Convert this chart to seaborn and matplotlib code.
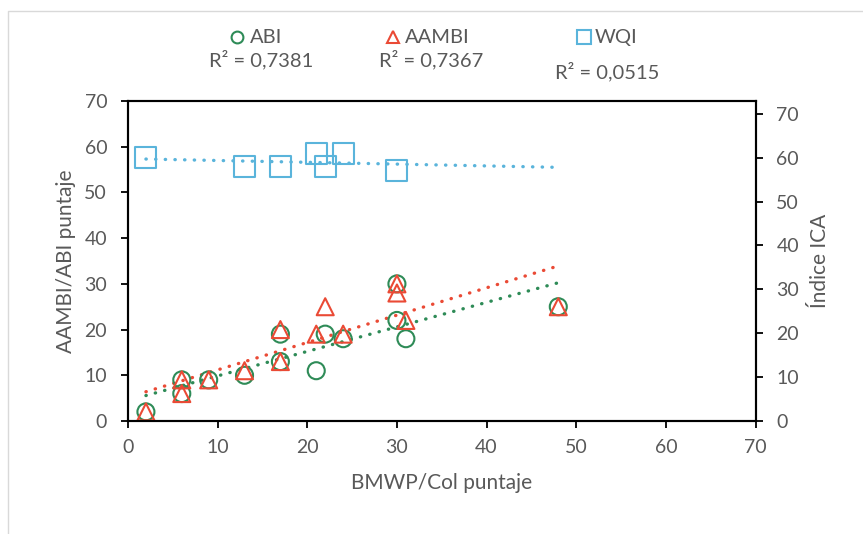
import numpy as np
import pandas as pd
import seaborn as sns
import matplotlib.pyplot as plt
from matplotlib.lines import Line2D

# datos
bmwp = [2, 6, 6, 9, 13, 17, 17, 21, 22, 24, 30, 30, 31, 48]
abi = [2, 9, 6, 9, 10, 19, 13, 11, 19, 18, 30, 22, 18, 25]
aambi = [2, 9, 6, 9, 11, 20, 13, 19, 25, 19, 30, 28, 22, 25]
bmwp_wqi = [2, 13, 17, 21, 22, 24, 30]
wqi = [60, 58, 58, 61, 58, 61, 57]
r2_labels = ["R² = 0,7381", "R² = 0,7367", "R² = 0,0515"]

verde = "#2E8B57"
rojo = "#EA4A35"
azul = "#5AB4DB"
gris = "#595959"

sns.set_theme(style="white")
plt.rcParams["font.family"] = ["Lato", "DejaVu Sans"]

W, H = 863, 534
fig = plt.figure(figsize=(W / 100, H / 100), dpi=100)
ax = fig.add_axes([128 / W, 1 - 421 / H, (755.5 - 128) / W, (421 - 101) / H])
ax2 = ax.twinx()

df = pd.DataFrame({"bmwp": bmwp, "abi": abi, "aambi": aambi})
dfw = pd.DataFrame({"bmwp": bmwp_wqi, "wqi": wqi})

dots = dict(linestyle=(0, (0.1, 2.8)), linewidth=2.4, dash_capstyle="round")
xs = np.array([2, 48])


def trend(axis, x, y, color, xr):
    m, b = np.polyfit(x, y, 1)
    sns.lineplot(x=xr, y=m * xr + b, ax=axis, color=color, **dots)


sns.scatterplot(data=df, x="bmwp", y="abi", ax=ax, marker="o", s=150,
                facecolor="none", edgecolor=verde, linewidth=1.5, zorder=3)
sns.scatterplot(data=df, x="bmwp", y="aambi", ax=ax, marker="^", s=150,
                facecolor="none", edgecolor=rojo, linewidth=1.5, zorder=3)
trend(ax, bmwp, abi, verde, xs)
trend(ax, bmwp, aambi, rojo, xs)

sns.scatterplot(data=dfw, x="bmwp", y="wqi", ax=ax2, marker="s", s=230,
                facecolor="none", edgecolor=azul, linewidth=1.5, zorder=3)
trend(ax2, bmwp_wqi, wqi, azul, xs)

ax.set_xlim(0, 70)
ax.set_ylim(0, 70)
ax2.set_ylim(0, 72.9)
ax.set_xticks(range(0, 71, 10))
ax.set_yticks(range(0, 71, 10))
ax2.set_yticks(range(0, 71, 10))

for a in (ax, ax2):
    for s in a.spines.values():
        s.set_color("black")
        s.set_linewidth(1.5)
    a.tick_params(colors="black", labelcolor=gris, labelsize=14,
                  length=5, width=1.3, direction="out")
ax.tick_params(axis="x", pad=8)
ax.tick_params(axis="y", left=True, pad=10)
ax.tick_params(axis="x", bottom=True)
ax2.tick_params(axis="y", right=True, pad=10)

ax.set_xlabel("BMWP/Col puntaje", fontsize=15, color=gris, labelpad=12)
ax.set_ylabel("AAMBI/ABI puntaje", fontsize=15, color=gris, labelpad=6)
ax2.set_ylabel("Índice ICA", fontsize=15, color=gris, labelpad=8)


def fx(px):
    return px / W


def fy(py):
    return 1 - py / H


# leyenda manual
marcas = [("o", verde, 237, "ABI", 250, 261, 60, 8.5),
          ("^", rojo, 393, "AAMBI", 405, 431, 60, 9),
          ("s", azul, 584, "WQI", 595, 607, 72, 10)]
for (mk, col, mx, nom, tx, rx, ry, ms), r2 in zip(marcas, r2_labels):
    fig.add_artist(Line2D([fx(mx)], [fy(37)], marker=mk, markersize=ms,
                          markerfacecolor="none", markeredgecolor=col,
                          markeredgewidth=1.5, transform=fig.transFigure))
    fig.text(fx(tx), fy(37), nom, fontsize=14.5, color=gris, va="center", ha="left")
    fig.text(fx(rx), fy(ry), r2, fontsize=14.5, color=gris, va="center", ha="center")

# borde del area del grafico
fig.add_artist(Line2D([fx(8), fx(8), 1], [0, fy(11), fy(11)],
                      color="#D9D9D9", linewidth=1, transform=fig.transFigure))

fig.savefig("out.png", dpi=100, facecolor="white")
